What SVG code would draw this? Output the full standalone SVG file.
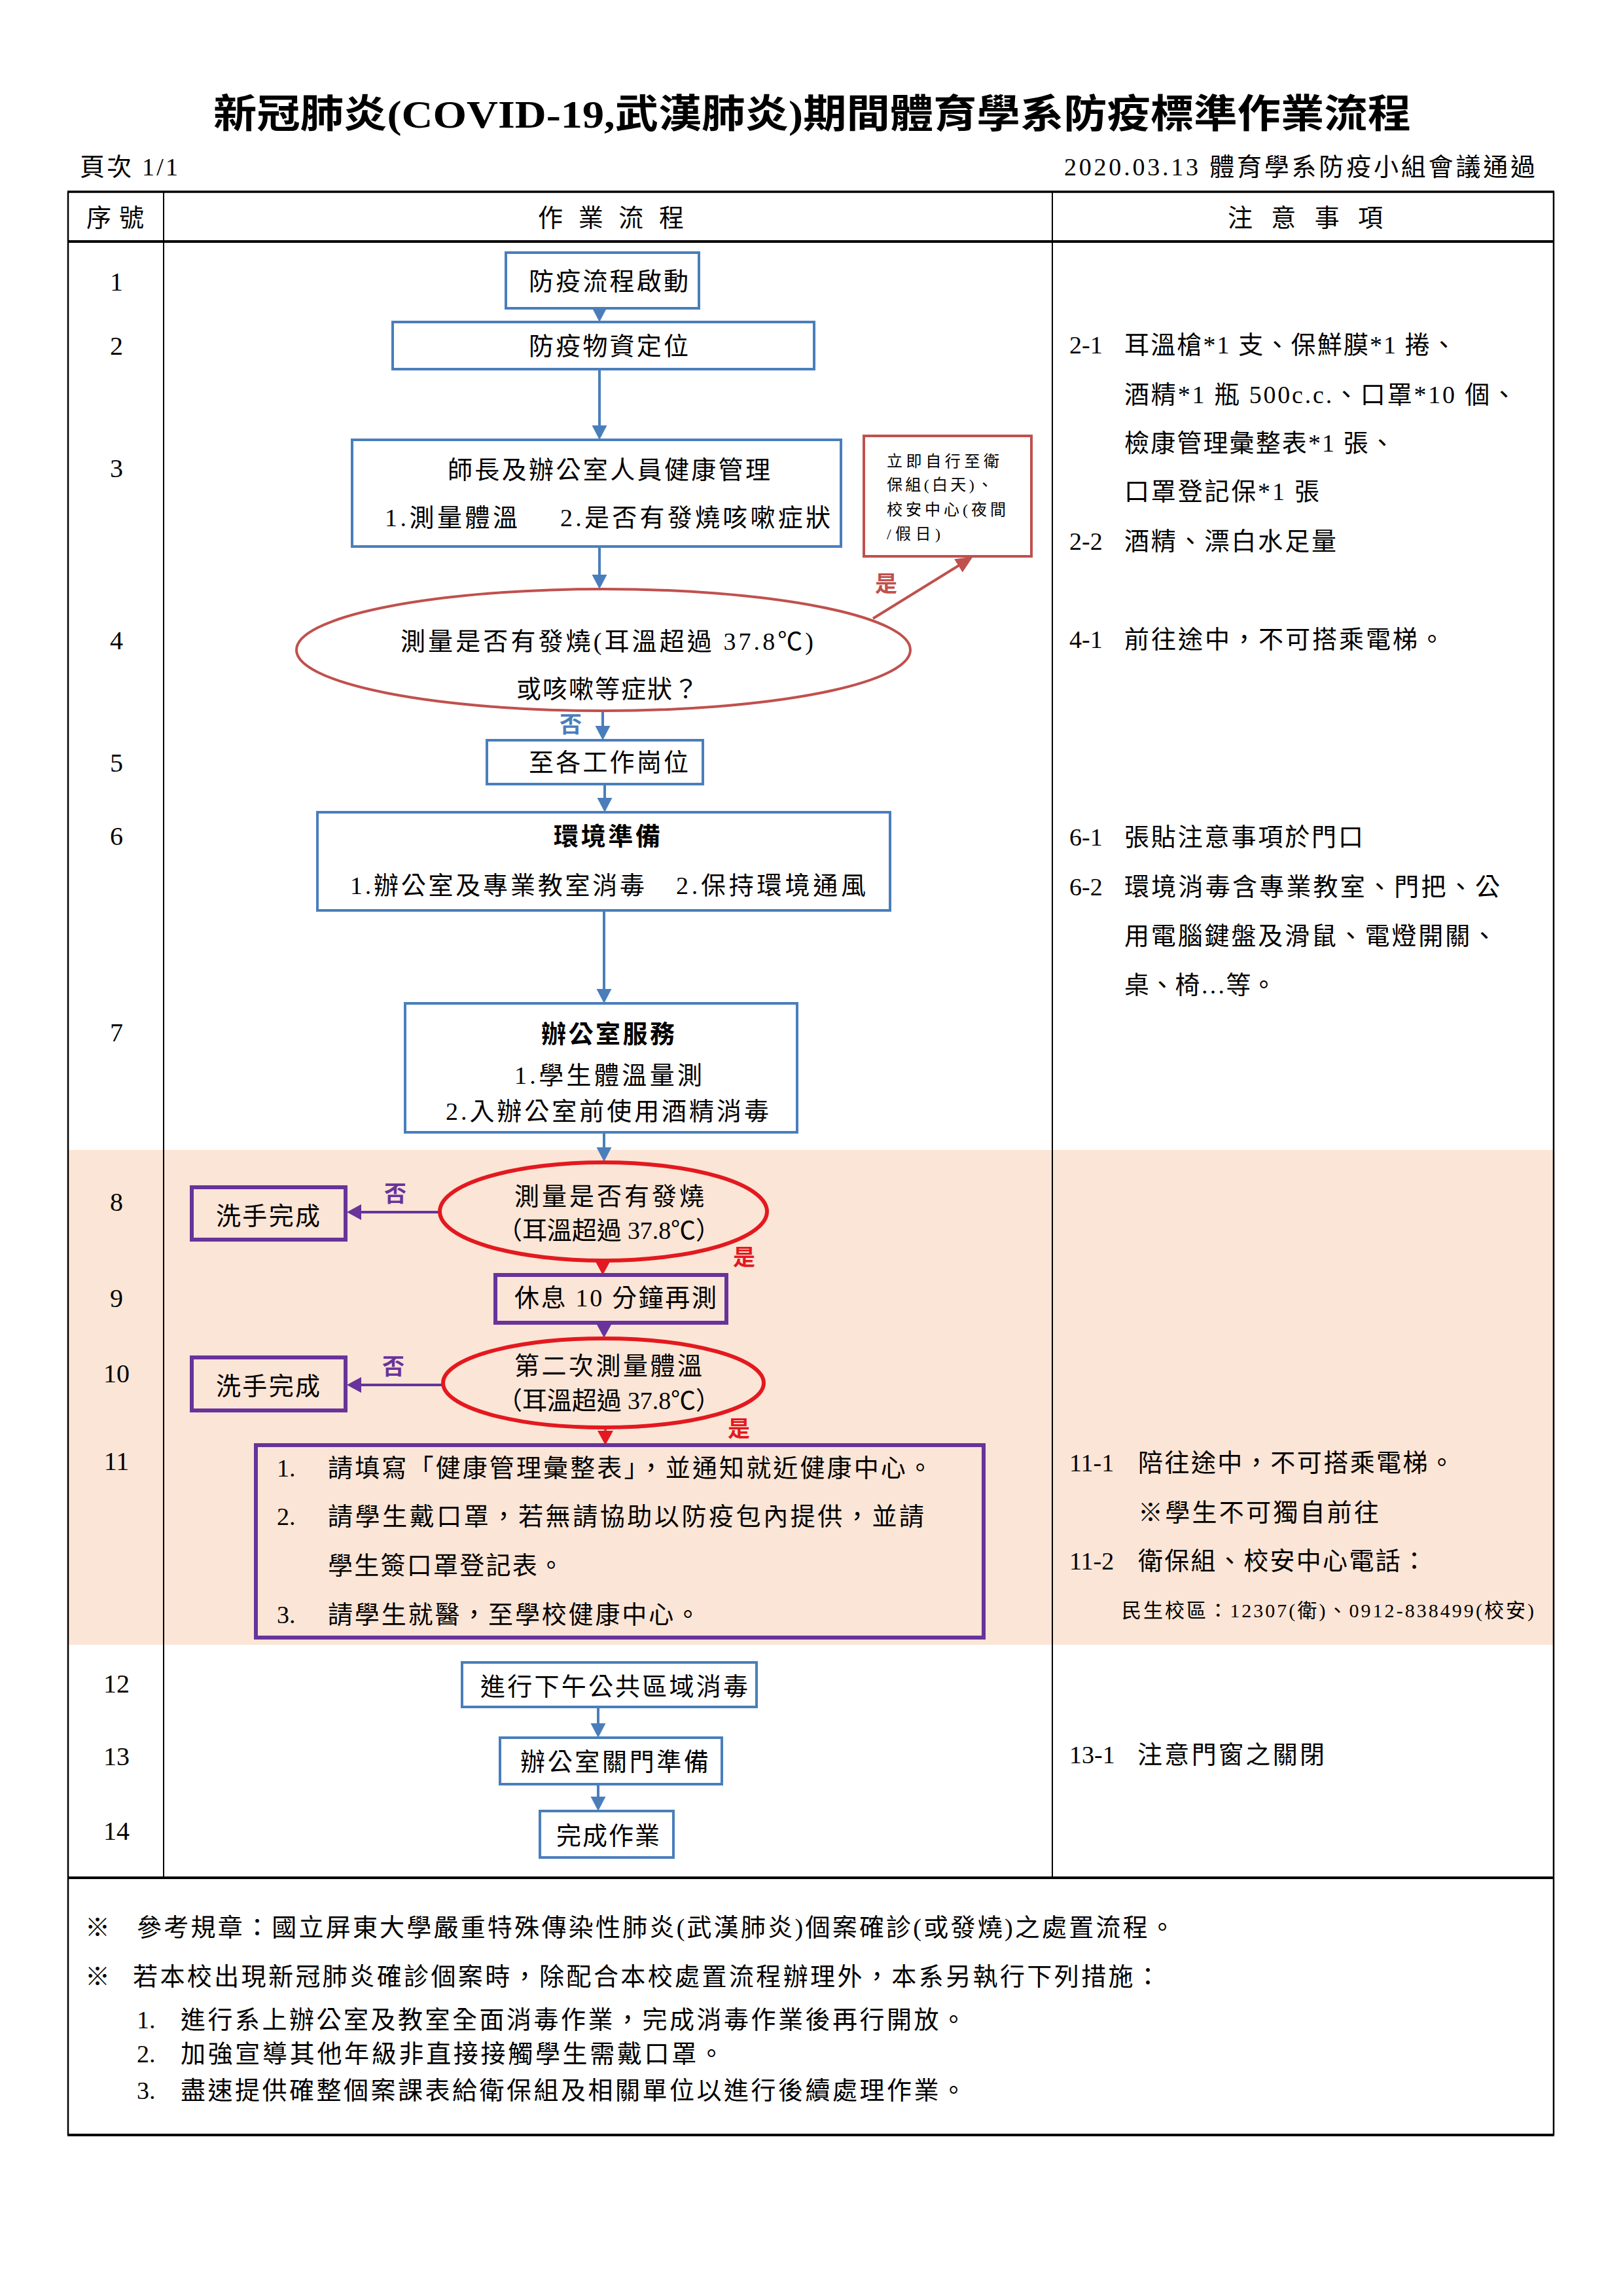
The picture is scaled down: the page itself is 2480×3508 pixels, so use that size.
<svg xmlns="http://www.w3.org/2000/svg" width="2480" height="3508" viewBox="0 0 2480 3508">
<style>
text{font-family:"Liberation Serif","Noto Sans CJK TC",serif;fill:#000;dominant-baseline:central}
.t{font-size:38px}
.s{font-size:24px}
.m{font-size:30px}
.num{font-size:40px;text-anchor:middle}
.bd{font-weight:bold}
.title{font-size:60px;font-weight:bold}
.lb{font-size:34px;font-weight:bold;text-anchor:middle}
.blue{fill:#fff;stroke:#4A7EBB;stroke-width:4}
.dred{fill:#fff;stroke:#C0504D;stroke-width:4}
.bred{fill:none;stroke:#E3191F;stroke-width:6}
.purp{fill:none;stroke:#68339A;stroke-width:6}
.cb{stroke:#4A7EBB;stroke-width:4;fill:none}
.cp{stroke:#68339A;stroke-width:4;fill:none}
.cr{stroke:#C0504D;stroke-width:4;fill:none}
.grid{stroke:#000;fill:none}
</style>
<defs>
<marker id="ab" markerUnits="userSpaceOnUse" markerWidth="24" markerHeight="24" refX="14" refY="11.5" orient="auto"><path d="M0,0 L22,11.5 L0,23 z" fill="#4A7EBB"/></marker>
<marker id="ap" markerUnits="userSpaceOnUse" markerWidth="26" markerHeight="26" refX="14" refY="12" orient="auto"><path d="M0,0 L22,12 L0,24 z" fill="#68339A"/></marker>
<marker id="ar" markerUnits="userSpaceOnUse" markerWidth="26" markerHeight="26" refX="14" refY="12" orient="auto"><path d="M0,0 L22,12 L0,24 z" fill="#E3191F"/></marker>
<marker id="adr" markerUnits="userSpaceOnUse" markerWidth="30" markerHeight="30" refX="16" refY="12" orient="auto"><path d="M0,0 L26,12 L0,24 z" fill="#C0504D"/></marker>
</defs>
<rect x="0" y="0" width="2480" height="3508" fill="#fff"/>

<g id="header">
<text class="title" x="326" y="175" textLength="1830" lengthAdjust="spacingAndGlyphs">新冠肺炎(COVID-19,武漢肺炎)期間體育學系防疫標準作業流程</text>
<text class="t" x="122" y="255" textLength="150">頁次 1/1</text>
<text class="t" x="1626" y="255" textLength="720">2020.03.13 體育學系防疫小組會議通過</text>
</g>

<g id="table">
<rect x="105" y="1757" width="2268" height="756" fill="#FBE5D6"/>
<line class="grid" x1="103" y1="293" x2="2375" y2="293" stroke-width="3.5"/>
<line class="grid" x1="103" y1="369" x2="2375" y2="369" stroke-width="4"/>
<line class="grid" x1="103" y1="2869" x2="2375" y2="2869" stroke-width="4"/>
<line class="grid" x1="103" y1="3262" x2="2375" y2="3262" stroke-width="4"/>
<line class="grid" x1="104" y1="293" x2="104" y2="3262" stroke-width="2.5"/>
<line class="grid" x1="2374" y1="293" x2="2374" y2="3262" stroke-width="2.5"/>
<line class="grid" x1="250" y1="293" x2="250" y2="2869" stroke-width="2"/>
<line class="grid" x1="1608" y1="293" x2="1608" y2="2869" stroke-width="2"/>
<text class="t" x="132" y="333" textLength="88">序號</text>
<text class="t" x="822" y="333" textLength="223">作 業 流 程</text>
<text class="t" x="1876" y="333" textLength="237">注 意 事 項</text>
</g>

<g id="row-numbers">
<text class="num" x="178" y="430">1</text>
<text class="num" x="178" y="528">2</text>
<text class="num" x="178" y="715">3</text>
<text class="num" x="178" y="978">4</text>
<text class="num" x="178" y="1165">5</text>
<text class="num" x="178" y="1277">6</text>
<text class="num" x="178" y="1577">7</text>
<text class="num" x="178" y="1836">8</text>
<text class="num" x="178" y="1983">9</text>
<text class="num" x="178" y="2098">10</text>
<text class="num" x="178" y="2232">11</text>
<text class="num" x="178" y="2572">12</text>
<text class="num" x="178" y="2683">13</text>
<text class="num" x="178" y="2797">14</text>
</g>

<g id="connectors">
<line class="cb" x1="916" y1="471" x2="916" y2="484" marker-end="url(#ab)"/>
<line class="cb" x1="916" y1="564" x2="916" y2="664" marker-end="url(#ab)"/>
<line class="cb" x1="916" y1="835" x2="916" y2="892" marker-end="url(#ab)"/>
<line class="cb" x1="921" y1="1087" x2="921" y2="1123" marker-end="url(#ab)"/>
<line class="cb" x1="924" y1="1198" x2="924" y2="1233" marker-end="url(#ab)"/>
<line class="cb" x1="923" y1="1391" x2="923" y2="1525" marker-end="url(#ab)"/>
<line class="cb" x1="923" y1="1730" x2="923" y2="1767" marker-end="url(#ab)"/>
<line class="cr" x1="1334" y1="945" x2="1478" y2="856" marker-end="url(#adr)"/>
<line class="cp" x1="671" y1="1852" x2="538" y2="1852" marker-end="url(#ap)"/>
<line class="cr" x1="921" y1="1927" x2="921" y2="1940" stroke="#E3191F" marker-end="url(#ar)"/>
<line class="cp" x1="923" y1="2021" x2="923" y2="2036" marker-end="url(#ap)"/>
<line class="cp" x1="676" y1="2116" x2="538" y2="2116" marker-end="url(#ap)"/>
<line class="cr" x1="925" y1="2182" x2="925" y2="2200" stroke="#E3191F" marker-end="url(#ar)"/>
<line class="cb" x1="914" y1="2608" x2="914" y2="2647" marker-end="url(#ab)"/>
<line class="cb" x1="914" y1="2726" x2="914" y2="2759" marker-end="url(#ab)"/>
<text class="lb" x="1354" y="892" fill="#C0504D" style="fill:#C0504D">是</text>
<text class="lb" x="872" y="1107" style="fill:#4A7EBB">否</text>
<text class="lb" x="604" y="1824" style="fill:#68339A">否</text>
<text class="lb" x="601" y="2088" style="fill:#68339A">否</text>
<text class="lb" x="1137" y="1921" style="fill:#E3191F">是</text>
<text class="lb" x="1129" y="2183" style="fill:#E3191F">是</text>
</g>

<g id="n1">
<rect class="blue" x="773" y="386" width="295" height="85"/>
<text class="t" x="808" y="430" textLength="244">防疫流程啟動</text>
</g>
<g id="n2">
<rect class="blue" x="600" y="492" width="644" height="72"/>
<text class="t" x="808" y="529" textLength="244">防疫物資定位</text>
</g>
<g id="n3">
<rect class="blue" x="538" y="672" width="747" height="163"/>
<text class="t" x="684" y="718" textLength="493">師長及辦公室人員健康管理</text>
<text class="t" x="588" y="791" textLength="203">1.測量體溫</text>
<text class="t" x="856" y="791" textLength="413">2.是否有發燒咳嗽症狀</text>
</g>
<g id="n3-note">
<rect class="dred" x="1320" y="666" width="256" height="184"/>
<text class="s" x="1355" y="705" textLength="172">立即自行至衛</text>
<text class="s" x="1355" y="741" textLength="162">保組(白天)、</text>
<text class="s" x="1355" y="779" textLength="182">校安中心(夜間</text>
<text class="s" x="1355" y="816" textLength="82">/假日)</text>
</g>
<g id="n4">
<ellipse class="dred" cx="922" cy="993" rx="469" ry="93"/>
<text class="t" x="612" y="980" textLength="631">測量是否有發燒(耳溫超過 37.8℃)</text>
<text class="t" x="789" y="1053" textLength="278">或咳嗽等症狀？</text>
</g>
<g id="n5">
<rect class="blue" x="744" y="1131" width="330" height="67"/>
<text class="t" x="808" y="1165" textLength="244">至各工作崗位</text>
</g>
<g id="n6">
<rect class="blue" x="485" y="1241" width="875" height="150"/>
<text class="t bd" x="846" y="1278" textLength="163">環境準備</text>
<text class="t" x="535" y="1353" textLength="450">1.辦公室及專業教室消毒</text>
<text class="t" x="1033" y="1353" textLength="290">2.保持環境通風</text>
</g>
<g id="n7">
<rect class="blue" x="619" y="1533" width="599" height="197"/>
<text class="t bd" x="827" y="1580" textLength="204">辦公室服務</text>
<text class="t" x="786" y="1643" textLength="287">1.學生體溫量測</text>
<text class="t" x="681" y="1698" textLength="494">2.入辦公室前使用酒精消毒</text>
</g>
<g id="n8">
<ellipse class="bred" cx="922" cy="1851" rx="250" ry="75"/>
<text class="t" x="786" y="1828" textLength="290">測量是否有發燒</text>
<text class="t" x="760" y="1880" textLength="341">（耳溫超過 37.8℃）</text>
</g>
<g id="n8-wash">
<rect class="purp" x="293" y="1814" width="235" height="80"/>
<text class="t" x="330" y="1858" textLength="159">洗手完成</text>
</g>
<g id="n9">
<rect class="purp" x="757" y="1948" width="353" height="73"/>
<text class="t" x="786" y="1983" textLength="309">休息 10 分鐘再測</text>
</g>
<g id="n10">
<ellipse class="bred" cx="922" cy="2113" rx="245" ry="68"/>
<text class="t" x="786" y="2087" textLength="287">第二次測量體溫</text>
<text class="t" x="760" y="2140" textLength="341">（耳溫超過 37.8℃）</text>
</g>
<g id="n10-wash">
<rect class="purp" x="293" y="2074" width="235" height="81"/>
<text class="t" x="330" y="2118" textLength="159">洗手完成</text>
</g>
<g id="n11">
<rect class="purp" x="391" y="2208" width="1112" height="294"/>
<text class="t" x="423" y="2243">1.</text>
<text class="t" x="501" y="2243" textLength="924">請填寫「健康管理彙整表」，並通知就近健康中心。</text>
<text class="t" x="423" y="2317">2.</text>
<text class="t" x="501" y="2317" textLength="911">請學生戴口罩，若無請協助以防疫包內提供，並請</text>
<text class="t" x="501" y="2392" textLength="360">學生簽口罩登記表。</text>
<text class="t" x="423" y="2467">3.</text>
<text class="t" x="501" y="2467" textLength="569">請學生就醫，至學校健康中心。</text>
</g>
<g id="n12">
<rect class="blue" x="706" y="2540" width="450" height="68"/>
<text class="t" x="734" y="2577" textLength="409">進行下午公共區域消毒</text>
</g>
<g id="n13">
<rect class="blue" x="764" y="2655" width="339" height="71"/>
<text class="t" x="795" y="2692" textLength="288">辦公室關門準備</text>
</g>
<g id="n14">
<rect class="blue" x="825" y="2767" width="204" height="71"/>
<text class="t" x="850" y="2805" textLength="158">完成作業</text>
</g>

<g id="notes">
<text class="t" x="1634" y="527">2-1</text>
<text class="t" x="1718" y="527" textLength="507">耳溫槍*1 支、保鮮膜*1 捲、</text>
<text class="t" x="1718" y="603" textLength="599">酒精*1 瓶 500c.c.、口罩*10 個、</text>
<text class="t" x="1718" y="677" textLength="413">檢康管理彙整表*1 張、</text>
<text class="t" x="1718" y="751" textLength="298">口罩登記保*1 張</text>
<text class="t" x="1634" y="827">2-2</text>
<text class="t" x="1718" y="827" textLength="324">酒精、漂白水足量</text>
<text class="t" x="1634" y="977">4-1</text>
<text class="t" x="1718" y="977" textLength="489">前往途中，不可搭乘電梯。</text>
<text class="t" x="1634" y="1279">6-1</text>
<text class="t" x="1718" y="1279" textLength="365">張貼注意事項於門口</text>
<text class="t" x="1634" y="1355">6-2</text>
<text class="t" x="1718" y="1355" textLength="574">環境消毒含專業教室、門把、公</text>
<text class="t" x="1718" y="1430" textLength="569">用電腦鍵盤及滑鼠、電燈開關、</text>
<text class="t" x="1718" y="1505" textLength="232">桌、椅…等。</text>
<text class="t" x="1634" y="2235">11-1</text>
<text class="t" x="1739" y="2235" textLength="483">陪往途中，不可搭乘電梯。</text>
<text class="t" x="1739" y="2311" textLength="368">※學生不可獨自前往</text>
<text class="t" x="1634" y="2385">11-2</text>
<text class="t" x="1739" y="2385" textLength="441">衛保組、校安中心電話：</text>
<text class="m" x="1714" y="2460" textLength="630">民生校區：12307(衛)、0912-838499(校安)</text>
<text class="t" x="1634" y="2681">13-1</text>
<text class="t" x="1738" y="2681" textLength="286">注意門窗之關閉</text>
</g>

<g id="footer">
<text class="t" x="130" y="2945">※</text>
<text class="t" x="209" y="2945" textLength="1586">參考規章：國立屏東大學嚴重特殊傳染性肺炎(武漢肺炎)個案確診(或發燒)之處置流程。</text>
<text class="t" x="130" y="3020">※</text>
<text class="t" x="203" y="3020" textLength="1570">若本校出現新冠肺炎確診個案時，除配合本校處置流程辦理外，本系另執行下列措施：</text>
<text class="t" x="209" y="3086">1.</text>
<text class="t" x="276" y="3086" textLength="1200">進行系上辦公室及教室全面消毒作業，完成消毒作業後再行開放。</text>
<text class="t" x="209" y="3138">2.</text>
<text class="t" x="276" y="3138" textLength="830">加強宣導其他年級非直接接觸學生需戴口罩。</text>
<text class="t" x="209" y="3194">3.</text>
<text class="t" x="276" y="3194" textLength="1200">盡速提供確整個案課表給衛保組及相關單位以進行後續處理作業。</text>
</g>
</svg>
